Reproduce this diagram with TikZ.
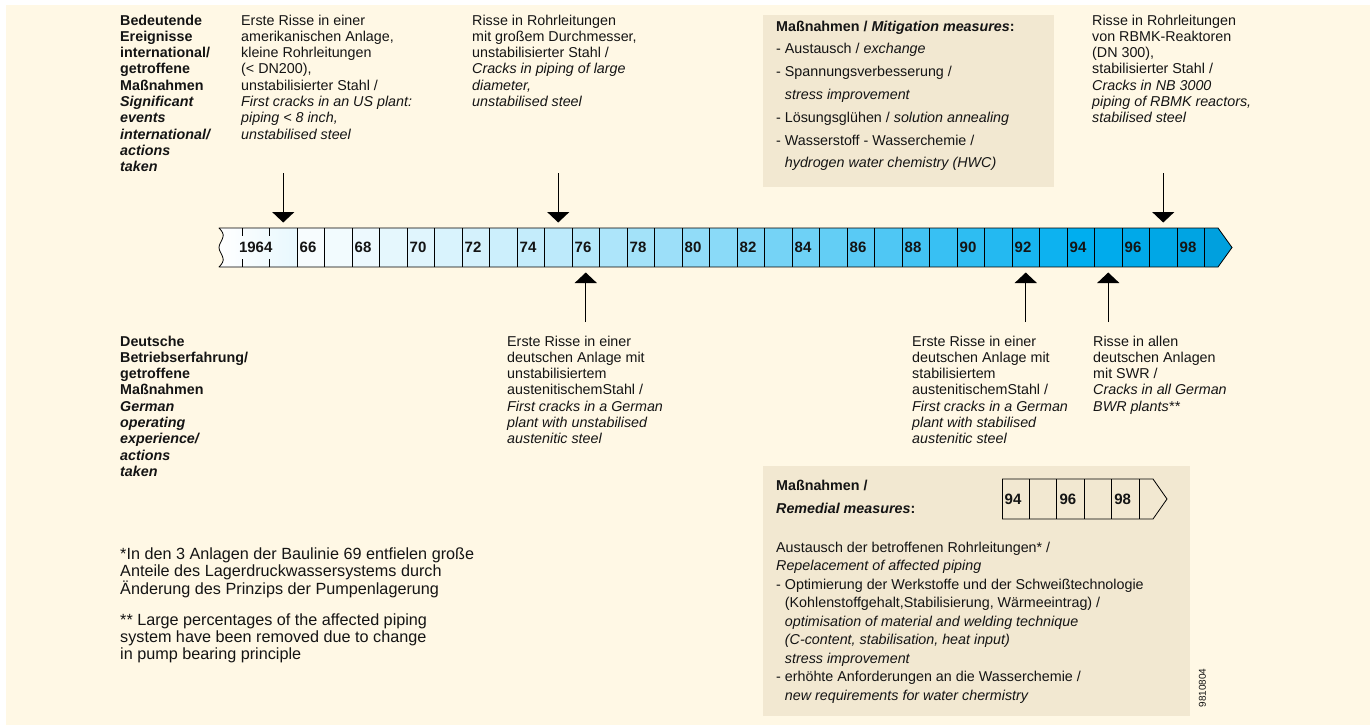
\documentclass[tikz,border=0pt]{standalone}
\usepackage{fontspec}
\setmainfont{Liberation Sans}
\usetikzlibrary{arrows.meta}
\definecolor{cream}{RGB}{255,248,229}
\definecolor{boxfill}{RGB}{242,232,209}
\definecolor{barblue}{RGB}{0,174,239}
\definecolor{bardark}{RGB}{0,160,222}
\definecolor{txt}{RGB}{20,20,20}
\begin{document}
\begin{tikzpicture}[x=1pt,y=-1pt,
  txtnode/.style={anchor=north west,inner sep=0pt,align=left,text=txt,font=\fontsize{14.3}{16.3}\selectfont},
  boldnode/.style={txtnode,font=\fontsize{14.3}{16.3}\selectfont\bfseries},
  fnnode/.style={txtnode,font=\fontsize{16.2}{16.8}\selectfont},
  yearnum/.style={anchor=west,inner sep=0pt,font=\fontsize{15}{15}\selectfont\bfseries,text=txt},
  cellline/.style={draw=black,line width=0.8pt},
  evarrow/.style={line width=1.3pt,-{Triangle[width=22pt,length=10.5pt]}}
]
\useasboundingbox (0,0) rectangle (1370,725);
\fill[white] (0,0) rectangle (1370,725);
\fill[cream] (6,5) rectangle (1370,725);

% measure boxes
\fill[boxfill] (763,15) rectangle (1054,187);
\fill[boxfill] (763,466) rectangle (1190,716);

% ---------- main time bar ----------
\shade[left color=white,right color=barblue!9!white]
  (297,228) -- (219,228) .. controls (222,231) and (224,234) .. (223,237)
  .. controls (222,241) and (219,244) .. (219,247.5)
  .. controls (219,251) and (222,254) .. (223,258)
  .. controls (224,261) and (222,264) .. (219,267) -- (297,267) -- cycle;
\foreach \y in {66,...,98}{
  \pgfmathsetmacro{\xl}{242+(\y-64)*27.5}
  \pgfmathtruncatemacro{\p}{min(100,100*((\y-63)/31)^1.4)}
  \ifnum\y<94
    \fill[barblue!\p!white] (\xl,228) rectangle ++(27.5,39);
  \else
    \pgfmathtruncatemacro{\q}{100-(\y-94)*18}
    \fill[barblue!\q!bardark] (\xl,228) rectangle ++(27.5,39);
  \fi
}
\fill[bardark] (1204.5,228) -- (1218,228) -- (1232,247.5) -- (1218,267) -- (1204.5,267) -- cycle;
% outline
\draw[cellline,line join=round]
  (1204.5,228) -- (219,228) .. controls (222,231) and (224,234) .. (223,237)
  .. controls (222,241) and (219,244) .. (219,247.5)
  .. controls (219,251) and (222,254) .. (223,258)
  .. controls (224,261) and (222,264) .. (219,267) -- (1204.5,267);
\draw[cellline,line join=miter] (1204.5,228) -- (1218,228) -- (1232,247.5) -- (1218,267) -- (1204.5,267);
\foreach \y in {66,...,99}{
  \pgfmathsetmacro{\xl}{242+(\y-64)*27.5}
  \draw[cellline] (\xl,228) -- (\xl,267);
}
\draw[cellline] (242,228) -- (242,236) (242,259) -- (242,267);
\draw[cellline] (269.5,228) -- (269.5,236) (269.5,259) -- (269.5,267);
\node[yearnum,anchor=center] (n64) at (255.75,247.5) {1964};
\foreach \y in {66,68,...,98}{
  \pgfmathsetmacro{\xl}{242+(\y-64)*27.5+2.5}
  \node[yearnum] (n\y) at (\xl,247.5) {\y};
}

% ---------- event arrows ----------
\coordinate (d1s) at (283.25,173);  \coordinate (d1e) at (283.25,222.5);
\coordinate (d2s) at (558.25,173);  \coordinate (d2e) at (558.25,222.5);
\coordinate (d3s) at (1163.25,173); \coordinate (d3e) at (1163.25,222.5);
\coordinate (u1s) at (585.75,322);  \coordinate (u1e) at (585.75,272.5);
\coordinate (u2s) at (1025.75,322); \coordinate (u2e) at (1025.75,272.5);
\coordinate (u3s) at (1108.25,322); \coordinate (u3e) at (1108.25,272.5);
\draw[evarrow] (d1s) -- (d1e);
\draw[evarrow] (d2s) -- (d2e);
\draw[evarrow] (d3s) -- (d3e);
\draw[evarrow] (u1s) -- (u1e);
\draw[evarrow] (u2s) -- (u2e);
\draw[evarrow] (u3s) -- (u3e);

% ---------- top texts ----------
\node[boldnode] (hdtop) at (120,14.5) {Bedeutende\\Ereignisse\\international/\\getroffene\\Maßnahmen\\\textit{Significant}\\\textit{events}\\\textit{international/}\\\textit{actions}\\\textit{taken}};
\node[txtnode] (ev1) at (241,14.5) {Erste Risse in einer\\amerikanischen Anlage,\\kleine Rohrleitungen\\(< DN200),\\unstabilisierter Stahl /\\\textit{First cracks in an US plant:}\\\textit{piping < 8 inch,}\\\textit{unstabilised steel}};
\node[txtnode] (ev2) at (472,14.5) {Risse in Rohrleitungen\\mit großem Durchmesser,\\unstabilisierter Stahl /\\\textit{Cracks in piping of large}\\\textit{diameter,}\\\textit{unstabilised steel}};
\node[txtnode,font=\fontsize{14.3}{22.8}\selectfont] (mit) at (776,20.5) {\textbf{Maßnahmen / \textit{Mitigation measures}:}\\- Austausch / \textit{exchange}\\- Spannungsverbesserung /\\\phantom{- }\textit{stress improvement}\\- Lösungsglühen / \textit{solution annealing}\\- Wasserstoff - Wasserchemie /\\\phantom{- }\textit{hydrogen water chemistry (HWC)}};
\node[txtnode] (ev3) at (1092,14.5) {Risse in Rohrleitungen\\von RBMK-Reaktoren\\(DN 300),\\stabilisierter Stahl /\\\textit{Cracks in NB 3000}\\\textit{piping of RBMK reactors,}\\\textit{stabilised steel}};

% ---------- bottom texts ----------
\node[boldnode] (hdbot) at (120,335.5) {Deutsche\\Betriebserfahrung/\\getroffene\\Maßnahmen\\\textit{German}\\\textit{operating}\\\textit{experience/}\\\textit{actions}\\\textit{taken}};
\node[txtnode] (ge1) at (507,335.5) {Erste Risse in einer\\deutschen Anlage mit\\unstabilisiertem\\austenitischemStahl /\\\textit{First cracks in a German}\\\textit{plant with unstabilised}\\\textit{austenitic steel}};
\node[txtnode] (ge2) at (912,335.5) {Erste Risse in einer\\deutschen Anlage mit\\stabilisiertem\\austenitischemStahl /\\\textit{First cracks in a German}\\\textit{plant with stabilised}\\\textit{austenitic steel}};
\node[txtnode] (ge3) at (1093,335.5) {Risse in allen\\deutschen Anlagen\\mit SWR /\\\textit{Cracks in all German}\\\textit{BWR plants**}};

\node[fnnode] (fn1) at (120,547.5) {*In den 3 Anlagen der Baulinie 69 entfielen große\\Anteile des Lagerdruckwassersystems durch\\Änderung des Prinzips der Pumpenlagerung};
\node[fnnode] (fn2) at (120,613.5) {** Large percentages of the affected piping\\system have been removed due to change\\in pump bearing principle};

% ---------- remedial box ----------
\node[boldnode,font=\fontsize{14.3}{23}\selectfont\bfseries] (rem) at (776,479.5) {Maßnahmen /\\\textit{Remedial measures}:};
\foreach \i in {0,...,5}{
  \draw[cellline] (1002+\i*27.4,479) -- (1002+\i*27.4,519);
}
\draw[cellline,line join=miter] (1002,479) -- (1153,479) -- (1167,499) -- (1153,519) -- (1002,519);
\node[yearnum] (s94) at (1004.5,499) {94};
\node[yearnum] (s96) at (1059.3,499) {96};
\node[yearnum] (s98) at (1114.1,499) {98};
\node[txtnode,font=\fontsize{14.3}{18.5}\selectfont] (remlist) at (776,541.5) {Austausch der betroffenen Rohrleitungen* /\\\textit{Repelacement of affected piping}\\- Optimierung der Werkstoffe und der Schweißtechnologie\\\phantom{- }(Kohlenstoffgehalt,Stabilisierung, Wärmeeintrag) /\\\phantom{- }\textit{optimisation of material and welding technique}\\\phantom{- }\textit{(C-content, stabilisation, heat input)}\\\phantom{- }\textit{stress improvement}\\- erhöhte Anforderungen an die Wasserchemie /\\\phantom{- }\textit{new requirements for water chermistry}};
\node[rotate=90,inner sep=0pt,text=txt,font=\fontsize{10}{10}\selectfont] (code) at (1202.5,688) {9810804};
\end{tikzpicture}
\end{document}
